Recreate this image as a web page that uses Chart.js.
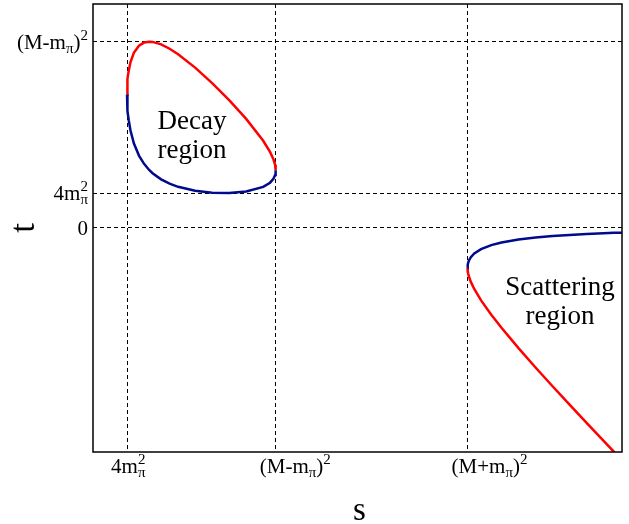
<!DOCTYPE html>
<html>
<head>
<meta charset="utf-8">
<script src="https://cdn.jsdelivr.net/npm/chart.js@4.4.1/dist/chart.umd.min.js"></script>
<style>
  html, body { margin: 0; padding: 0; background: #fff; }
  #wrap { width: 629px; height: 524px; }
</style>
</head>
<body>
<div id="wrap"><canvas id="mandelstam"></canvas></div>
<script>
// s, t in units of 4 m_pi^2 = 1
const sTicks = [1, 5.3685, 11.0025];
const sTickLabels = ['4m_π^2', '(M-m_π)^2', '(M+m_π)^2'];
const tTicks = [0, 1, 5.3685];
const tTickLabels = ['0', '4m_π^2', '(M-m_π)^2'];

// decay region boundary
const decayS = [1, 1.005, 1.01, 1.02, 1.05, 1.1, 1.2, 1.35, 1.5, 1.65, 1.75, 2, 2.25, 2.5, 3, 3.5, 4, 4.5, 5, 5.2, 5.3, 5.35, 5.36, 5.365, 5.3685];
const decayUpperT = [3.843, 4.073, 4.166, 4.294, 4.533, 4.773, 5.048, 5.253, 5.343, 5.368, 5.362, 5.290, 5.165, 5.006, 4.620, 4.175, 3.683, 3.141, 2.508, 2.187, 1.974, 1.814, 1.762, 1.724, 1.659];
const decayLowerT = [3.843, 3.607, 3.509, 3.371, 3.103, 2.813, 2.438, 2.082, 1.843, 1.667, 1.574, 1.396, 1.271, 1.180, 1.066, 1.011, 1.002, 1.045, 1.178, 1.299, 1.411, 1.522, 1.564, 1.597, 1.659];

// scattering region boundary
const scatterS = [11.0025, 11.005, 11.01, 11.02, 11.05, 11.1, 11.2, 11.4, 11.7, 12, 12.5, 13, 13.5, 14, 14.5, 15, 15.3, 15.54];
const scatterUpperT = [-1.159, -1.103, -1.064, -1.017, -0.935, -0.851, -0.745, -0.618, -0.502, -0.426, -0.340, -0.282, -0.239, -0.207, -0.181, -0.160, -0.149, -0.142];
const scatterLowerT = [-1.159, -1.216, -1.260, -1.317, -1.430, -1.564, -1.769, -2.097, -2.512, -2.888, -3.475, -4.033, -4.575, -5.108, -5.634, -6.155, -6.465, -6.713];

const RED = '#ff0000';
const BLUE = '#000a8c';
const SERIF = '"Liberation Serif", "Times New Roman", serif';

const toPoints = (xs, ys) => xs.map((x, i) => ({ x, y: ys[i] }));

const curve = (xs, ys, color) => ({
    data: toPoints(xs, ys),
    showLine: true,
    borderColor: color,
    borderWidth: 2.5,
    pointRadius: 0,
    tension: 0,
    fill: false
});

// split "4m_π^2" into normal / sub / sup pieces
function parseLabel(str) {
    const parts = [];
    for (let i = 0; i < str.length; i++) {
        const c = str[i];
        if ((c === '_' || c === '^') && i + 1 < str.length) {
            parts.push({ text: str[i + 1], kind: c === '_' ? 'sub' : 'sup' });
            i++;
        } else if (parts.length && parts[parts.length - 1].kind === 'n') {
            parts[parts.length - 1].text += c;
        } else {
            parts.push({ text: c, kind: 'n' });
        }
    }
    return parts;
}

const MAIN_FONT = '21px ' + SERIF;
const SCRIPT_FONT = '15px ' + SERIF;

function layoutLabel(ctx, str) {
    const parts = parseLabel(str);
    let x = 0;
    const items = [];
    let prevScript = null;
    parts.forEach(p => {
        ctx.font = p.kind === 'n' ? MAIN_FONT : SCRIPT_FONT;
        const w = ctx.measureText(p.text).width;
        if (p.kind !== 'n' && prevScript && prevScript.kind !== p.kind) {
            // stack sub and sup on the same spot
            items.push({ ...p, x: prevScript.x });
            x += Math.max(0, w - prevScript.w);
            prevScript = null;
        } else {
            items.push({ ...p, x });
            prevScript = p.kind !== 'n' ? { kind: p.kind, x, w } : null;
            x += w;
        }
    });
    return { items, width: x };
}

function drawLabel(ctx, str, x0, baseline, align) {
    const { items, width } = layoutLabel(ctx, str);
    const left = align === 'right' ? x0 - width : x0;
    ctx.fillStyle = '#000';
    ctx.textAlign = 'left';
    ctx.textBaseline = 'alphabetic';
    items.forEach(it => {
        let dy = 0;
        if (it.kind === 'n') ctx.font = MAIN_FONT;
        else {
            ctx.font = SCRIPT_FONT;
            dy = it.kind === 'sub' ? 4 : -9;
        }
        ctx.fillText(it.text, left + it.x, baseline + dy);
    });
}

const textPlugin = {
    id: 'mandelstamText',
    afterDraw(chart) {
        const { ctx, chartArea: a, scales: { x, y } } = chart;
        ctx.save();

        // frame
        ctx.strokeStyle = '#000';
        ctx.lineWidth = 1.5;
        ctx.setLineDash([]);
        ctx.strokeRect(a.left, a.top, a.right - a.left, a.bottom - a.top);

        // tick labels
        sTicks.forEach((v, i) => {
            drawLabel(ctx, sTickLabels[i], x.getPixelForValue(v) - 16, 473, 'left');
        });
        tTicks.forEach((v, i) => {
            drawLabel(ctx, tTickLabels[i], a.left - 5, y.getPixelForValue(v) + 7, 'right');
        });

        // axis titles
        ctx.fillStyle = '#000';
        ctx.font = '33px ' + SERIF;
        ctx.textAlign = 'center';
        ctx.textBaseline = 'alphabetic';
        ctx.fillText('s', (a.left + a.right) / 2 + 2, 520);

        ctx.save();
        ctx.font = '35px ' + SERIF;
        ctx.translate(25, (a.top + a.bottom) / 2);
        ctx.rotate(-Math.PI / 2);
        ctx.textBaseline = 'middle';
        ctx.fillText('t', 0, 0);
        ctx.restore();

        // region names
        ctx.font = '27px ' + SERIF;
        ctx.textAlign = 'center';
        const dx = x.getPixelForValue(2.908), dy = y.getPixelForValue(2.84);
        ctx.fillText('Decay', dx, dy);
        ctx.fillText('region', dx, dy + 29);
        const sx = x.getPixelForValue(13.72), sy = y.getPixelForValue(-1.93);
        ctx.fillText('Scattering', sx, sy);
        ctx.fillText('region', sx, sy + 29);

        ctx.restore();
    }
};

const gridOpts = {
    color: '#000',
    lineWidth: 1,
    drawTicks: false
};

new Chart(document.getElementById('mandelstam'), {
    type: 'scatter',
    data: {
        datasets: [
            curve(decayS, decayLowerT, BLUE),
            curve(decayS, decayUpperT, RED),
            curve(scatterS, scatterUpperT, BLUE),
            curve(scatterS, scatterLowerT, RED)
        ]
    },
    options: {
        responsive: true,
        maintainAspectRatio: false,
        animation: false,
        devicePixelRatio: 1,
        layout: { padding: { left: 93, right: 7, top: 4, bottom: 72 } },
        plugins: {
            legend: { display: false },
            tooltip: { enabled: false }
        },
        scales: {
            x: {
                type: 'linear',
                min: 0,
                max: 15.54,
                afterBuildTicks: s => { s.ticks = sTicks.map(v => ({ value: v })); },
                afterFit: s => { s.height = 0; },
                ticks: { display: false },
                grid: gridOpts,
                border: { display: false, dash: [4, 3] }
            },
            y: {
                type: 'linear',
                min: -6.473,
                max: 6.456,
                afterBuildTicks: s => { s.ticks = tTicks.map(v => ({ value: v })); },
                afterFit: s => { s.width = 0; },
                ticks: { display: false },
                grid: gridOpts,
                border: { display: false, dash: [4, 3] }
            }
        }
    },
    plugins: [textPlugin]
});
</script>
</body>
</html>
